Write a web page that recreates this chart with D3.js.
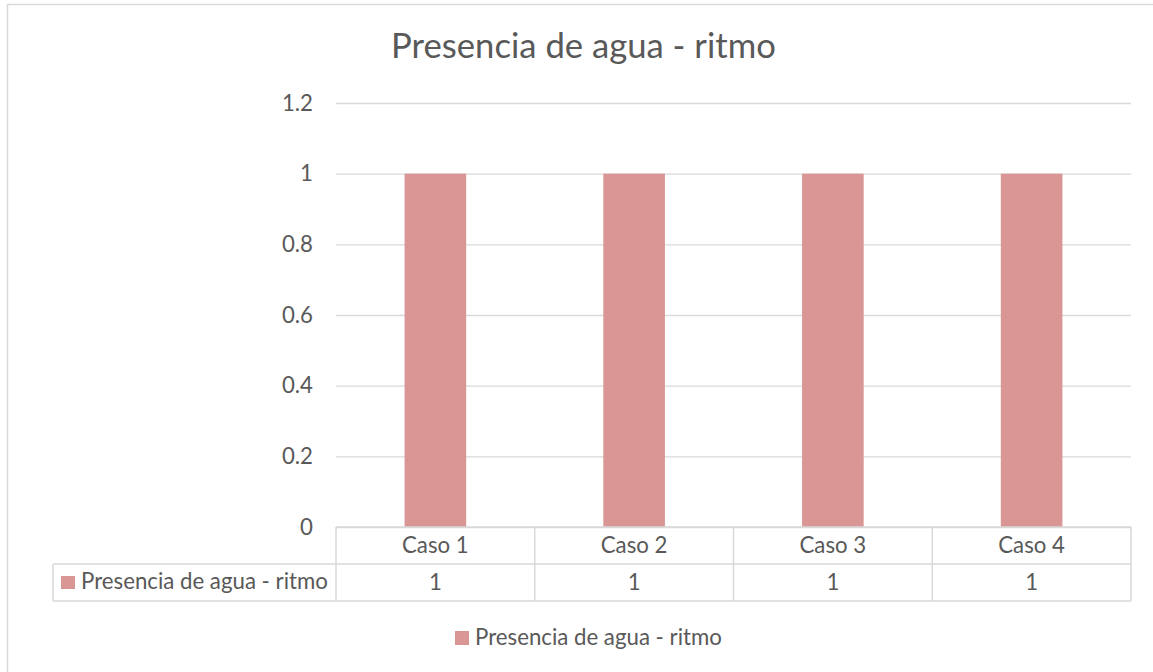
<!DOCTYPE html>
<html>
<head>
<meta charset="utf-8">
<script src="https://cdn.jsdelivr.net/npm/d3@7"></script>
<style>
  html, body { margin: 0; padding: 0; background: #ffffff; }
  svg { display: block; }
  text { font-family: Lato, "Open Sans", sans-serif; fill: #595959; }
</style>
</head>
<body>
<svg id="chart" width="1153" height="672"></svg>
<script>
// Chart data
const title = "Presencia de agua - ritmo";
const seriesName = "Presencia de agua - ritmo";
const categories = ["Caso 1", "Caso 2", "Caso 3", "Caso 4"];
const values = [1, 1, 1, 1];
const yTicks = [0, 0.2, 0.4, 0.6, 0.8, 1, 1.2];

const barColor = "#d99694";
const gridColor = "#d9d9d9";
const textColor = "#595959";

const svg = d3.select("#chart");

// Pick a font size so that a sample string spans the wanted width
function fitSize(sample, width) {
  const t = svg.append("text").style("font-size", "100px").text(sample);
  const w = t.node().getComputedTextLength();
  t.remove();
  return 100 * width / w;
}
const titleSize = fitSize(title, 385);
const labelSize = fitSize(seriesName, 247);

// Outer chart border
svg.append("rect")
  .attr("x", 7.5).attr("y", 4.5)
  .attr("width", 1160).attr("height", 680)
  .attr("fill", "#ffffff")
  .attr("stroke", gridColor).attr("stroke-width", 1.5);

// Plot area
const plot = { left: 336, right: 1131, top: 103, bottom: 527 };

const x = d3.scaleBand()
  .domain(categories)
  .range([plot.left, plot.right])
  .paddingInner(0.69)
  .paddingOuter(0.345);

const y = d3.scaleLinear()
  .domain([0, 1.2])
  .range([plot.bottom, plot.top]);

// Gridlines and tick labels
const yAxis = d3.axisLeft(y)
  .tickValues(yTicks)
  .tickSize(-(plot.right - plot.left))
  .tickPadding(23)
  .tickFormat(d => String(+d.toFixed(1)));

const gy = svg.append("g")
  .attr("transform", `translate(${plot.left},0)`)
  .call(yAxis);
gy.select(".domain").remove();
gy.selectAll(".tick line").attr("stroke", gridColor).attr("stroke-width", 1.3);
gy.selectAll(".tick text")
  .attr("fill", textColor)
  .style("font-size", labelSize + "px")
  .attr("dy", null)
  .attr("y", 7);

// Bars
svg.append("g")
  .selectAll("rect")
  .data(categories.map((c, i) => ({ c, v: values[i] })))
  .join("rect")
  .attr("x", d => x(d.c))
  .attr("y", d => y(d.v))
  .attr("width", x.bandwidth())
  .attr("height", d => y(0) - y(d.v))
  .attr("fill", barColor);

// Data table below the plot
const table = { left: 53, headTop: plot.bottom, rowTop: 564, rowBottom: 601 };
const step = x.step();
const cellLeft = c => plot.left + categories.indexOf(c) * step;
const lines = svg.append("g")
  .attr("stroke", gridColor).attr("stroke-width", 1.5).attr("fill", "none");

// horizontal rules
lines.append("line")
  .attr("x1", plot.left).attr("x2", plot.right)
  .attr("y1", table.headTop).attr("y2", table.headTop);
lines.append("line")
  .attr("x1", table.left).attr("x2", plot.right)
  .attr("y1", table.rowTop).attr("y2", table.rowTop);
lines.append("line")
  .attr("x1", table.left).attr("x2", plot.right)
  .attr("y1", table.rowBottom).attr("y2", table.rowBottom);
// vertical rules
lines.append("line")
  .attr("x1", table.left).attr("x2", table.left)
  .attr("y1", table.rowTop).attr("y2", table.rowBottom);
lines.selectAll("line.v")
  .data(categories.map(cellLeft).concat([plot.right]))
  .join("line")
  .attr("class", "v")
  .attr("x1", d => d).attr("x2", d => d)
  .attr("y1", table.headTop).attr("y2", table.rowBottom);

// category headers
svg.append("g")
  .selectAll("text")
  .data(categories)
  .join("text")
  .attr("x", c => cellLeft(c) + step / 2)
  .attr("y", 553)
  .attr("text-anchor", "middle")
  .style("font-size", labelSize + "px")
  .text(c => c);

// values row
svg.append("g")
  .selectAll("text")
  .data(categories.map((c, i) => ({ c, v: values[i] })))
  .join("text")
  .attr("x", d => cellLeft(d.c) + step / 2)
  .attr("y", 590)
  .attr("text-anchor", "middle")
  .style("font-size", labelSize + "px")
  .text(d => d.v);

// series key in the table
svg.append("rect")
  .attr("x", 61).attr("y", 576).attr("width", 14).attr("height", 13)
  .attr("fill", barColor);
svg.append("text")
  .attr("x", 81).attr("y", 589)
  .style("font-size", labelSize + "px")
  .text(seriesName);

// Legend
svg.append("rect")
  .attr("x", 455).attr("y", 631).attr("width", 14).attr("height", 14)
  .attr("fill", barColor);
svg.append("text")
  .attr("x", 475).attr("y", 645)
  .style("font-size", labelSize + "px")
  .text(seriesName);

// Title
svg.append("text")
  .attr("x", 583.5).attr("y", 58)
  .attr("text-anchor", "middle")
  .style("font-size", titleSize + "px")
  .text(title);
</script>
</body>
</html>
